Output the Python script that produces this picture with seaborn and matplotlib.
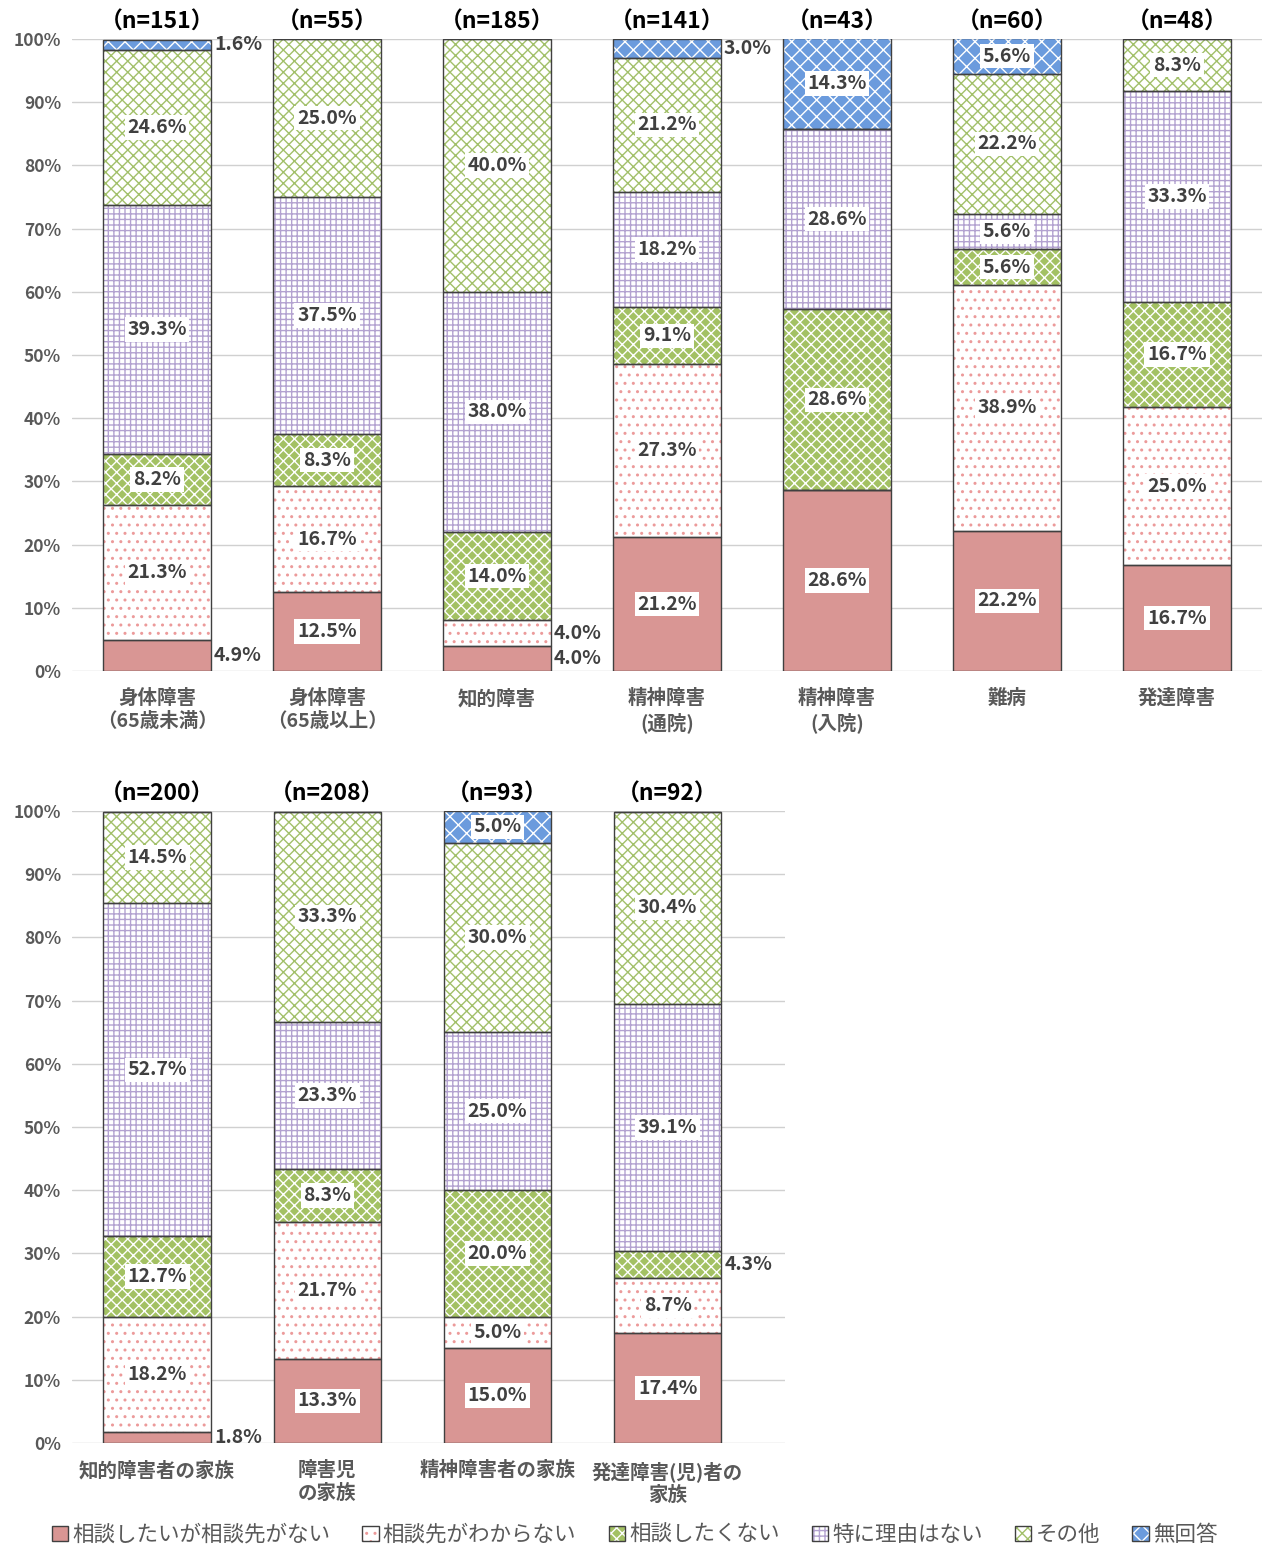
import numpy as np
import seaborn as sns
import matplotlib.pyplot as plt
from matplotlib.patches import Patch

# ---- data ----
series = ["相談したいが相談先がない", "相談先がわからない", "相談したくない",
          "特に理由はない", "その他", "無回答"]

top_cats = ["身体障害\n（65歳未満）", "身体障害\n（65歳以上）", "知的障害",
            "精神障害\n(通院)", "精神障害\n(入院)", "難病", "発達障害"]
top_n = [151, 55, 185, 141, 43, 60, 48]
top_vals = [
    [4.9, 12.5, 4.0, 21.2, 28.6, 22.2, 16.7],
    [21.3, 16.7, 4.0, 27.3, 0.0, 38.9, 25.0],
    [8.2, 8.3, 14.0, 9.1, 28.6, 5.6, 16.7],
    [39.3, 37.5, 38.0, 18.2, 28.6, 5.6, 33.3],
    [24.6, 25.0, 40.0, 21.2, 0.0, 22.2, 8.3],
    [1.6, 0.0, 0.0, 3.0, 14.3, 5.6, 0.0],
]

bot_cats = ["知的障害者の家族", "障害児\nの家族", "精神障害者の家族", "発達障害(児)者の\n家族"]
bot_n = [200, 208, 93, 92]
bot_vals = [
    [1.8, 13.3, 15.0, 17.4],
    [18.2, 21.7, 5.0, 8.7],
    [12.7, 8.3, 20.0, 4.3],
    [52.7, 23.3, 25.0, 39.1],
    [14.5, 33.3, 30.0, 30.4],
    [0.0, 0.0, 5.0, 0.0],
]

# face / hatch / hatch colour per series
faces = ["#D99694", "white", "#A3C163", "white", "white", "#6B9BDD"]
hatches = [None, "..", "xxx", "+++", "xxx", "xx"]
hcols = ["#D99694", "#EC9A9A", "white", "#B3A2D0", "#A2C06A", "white"]

sns.set_style("white")
plt.rcParams['font.family'] = ['Noto Sans CJK JP', 'DejaVu Sans']
plt.rcParams['hatch.linewidth'] = 1.0

fig = plt.figure(figsize=(12.69, 15.49), dpi=100)
ax_top = fig.add_axes([72/1269, 878/1549, 1190/1269, 632/1549])
ax_bot = fig.add_axes([72/1269, 106/1549, 713/1269, 632/1549])

GRAY = "#595959"
W = 0.63


def stacked(ax, cats, vals, ns, xmax):
    vals = np.array(vals)
    bottoms = np.vstack([np.zeros(len(cats)), np.cumsum(vals, axis=0)[:-1]])
    for k in range(len(series)):
        kw = dict(hatch=hatches[k]) if hatches[k] else {}
        sns.barplot(x=cats, y=vals[k], bottom=bottoms[k], order=cats, ax=ax,
                    color=faces[k], saturation=1, width=W, edgecolor=hcols[k],
                    linewidth=0, zorder=2, **kw)
        # outlines
        sns.barplot(x=cats, y=vals[k], bottom=bottoms[k], order=cats, ax=ax,
                    fill=False, saturation=1, width=W, edgecolor="#404040",
                    linewidth=1.0, zorder=3, color="#404040")
        for i, v in enumerate(vals[k]):
            if v <= 0:
                continue
            yc = bottoms[k][i] + v / 2
            if v < 5:
                ax.text(i + W / 2 + 0.02, yc, f"{v:.1f}%", ha="left", va="center",
                        fontsize=14, fontweight="bold", color="#404040", zorder=5)
            else:
                ax.text(i, yc, f"{v:.1f}%", ha="center", va="center",
                        fontsize=14, fontweight="bold", color="#404040", zorder=5,
                        bbox=dict(facecolor="white", edgecolor="none", pad=2.0))
    for i, n in enumerate(ns):
        ax.annotate(f"（n={n}）", (i, 100), xytext=(0, 12), textcoords="offset points",
                    ha="center", va="center", fontsize=16.5, fontweight="bold",
                    color="black", annotation_clip=False)
    ax.set_ylim(0, 100)
    ax.set_xlim(-0.5, xmax)
    ax.set_yticks(np.arange(0, 101, 10))
    ax.set_yticklabels([f"{t}%" for t in range(0, 101, 10)], fontsize=12.5,
                       fontweight="bold", color=GRAY)
    ax.set_xticks(range(len(cats)))
    ax.set_xticklabels(cats, fontsize=14, fontweight="bold", color=GRAY,
                       va="top", linespacing=1.25)
    ax.tick_params(axis="y", length=0, pad=8)
    ax.tick_params(axis="x", length=0, pad=13)
    ax.grid(axis="y", color="#D0D0D0", linewidth=1.0, zorder=0)
    ax.set_axisbelow(True)
    ax.set_xlabel("")
    ax.set_ylabel("")
    for s in ax.spines.values():
        s.set_visible(False)


stacked(ax_top, top_cats, top_vals, top_n, 6.5)
stacked(ax_bot, bot_cats, bot_vals, bot_n, 3.69)

handles = [(Patch(facecolor=faces[k], edgecolor=hcols[k], hatch=hatches[k], linewidth=0),
            Patch(fill=False, edgecolor="#404040", linewidth=1.0))
           for k in range(len(series))]
leg = fig.legend(handles, series, loc="center", bbox_to_anchor=(0.5, 14/1549),
                 ncol=6, frameon=False, fontsize=15.5, handlelength=0.75,
                 handleheight=0.75, handletextpad=0.2, columnspacing=1.5)
for t in leg.get_texts():
    t.set_color(GRAY)

fig.savefig("out.png", dpi=100)
